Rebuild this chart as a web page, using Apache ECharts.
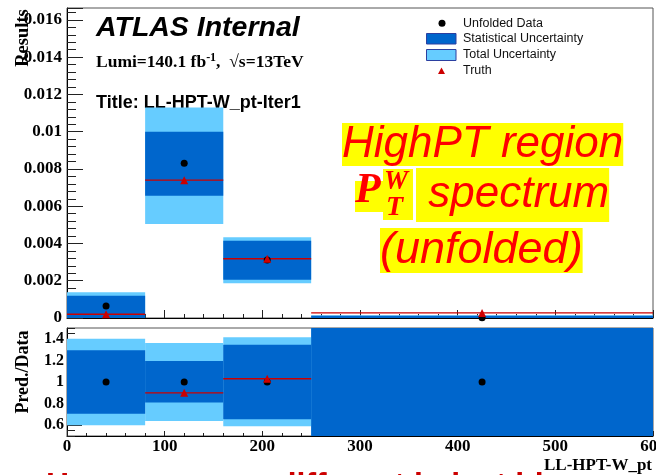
<!DOCTYPE html>
<html><head><meta charset="utf-8">
<script src="https://cdn.jsdelivr.net/npm/echarts@6/dist/echarts.min.js"></script>
<style>html,body{margin:0;padding:0;background:#fff}#c{width:656px;height:475px}</style>
</head><body><div id="c"></div>
<script>
// ---- data ----
const binEdges = [0, 80, 160, 250, 600];
const binCenters = [40, 120, 205, 425];
const dataVals = [0.00064, 0.0083, 0.00311, 0.00002];
const truthVals = [0.0002, 0.0074, 0.00318, 0.00027];
const statLo = [-0.0006, 0.00656, 0.00205, -0.0001];
const statHi = [0.0012, 0.0100, 0.00414, 0.00012];
const totLo = [-0.0006, 0.00504, 0.00186, -0.0001];
const totHi = [0.00138, 0.0113, 0.00433, 0.00015];
const ratioData = [1, 1, 1, 1];
const ratioTruth = [0.31, 0.90, 1.03, 13.5];
const ratioStatLo = [0.707, 0.81, 0.654, -20];
const ratioStatHi = [1.295, 1.195, 1.345, 20];
const ratioTotLo = [0.60, 0.64, 0.59, -20];
const ratioTotHi = [1.40, 1.36, 1.415, 20];
const ratioTickLabels = [0.6, 0.8, 1, 1.2, 1.4];
const legendLabels = ['Unfolded Data', 'Statistical Uncertainty', 'Total Uncertainty', 'Truth'];

const STAT = '#0066cc', TOT = '#66ccff', TRUTH = '#cc0000';
const serif = 'Liberation Serif', sans = 'Liberation Sans';

function bandData(lo, hi) { return lo.map((v, i) => [binEdges[i], binEdges[i + 1], v, hi[i]]); }
function lineData(vals) { return vals.map((v, i) => [binEdges[i], binEdges[i + 1], v]); }
function csRect(p) { return { x: p.coordSys.x, y: p.coordSys.y, width: p.coordSys.width, height: p.coordSys.height }; }
function bandItem(params, api) {
  const a = api.coord([api.value(0), api.value(3)]);
  const b = api.coord([api.value(1), api.value(2)]);
  const shape = echarts.graphic.clipRectByRect({ x: a[0], y: a[1], width: b[0] - a[0], height: b[1] - a[1] }, csRect(params));
  return shape && { type: 'rect', shape: shape, style: { fill: api.visual('color') } };
}
function lineItem(params, api) {
  const a = api.coord([api.value(0), api.value(2)]);
  const b = api.coord([api.value(1), api.value(2)]);
  const r = csRect(params);
  if (a[1] < r.y || a[1] > r.y + r.height) return null;
  return { type: 'line', shape: { x1: a[0], y1: a[1], x2: b[0], y2: b[1] }, style: { stroke: api.visual('color'), lineWidth: 1.3 } };
}
function band(name, lo, hi, color, idx) {
  return { name, type: 'custom', xAxisIndex: idx, yAxisIndex: idx, itemStyle: { color }, renderItem: bandItem,
    encode: { x: [0, 1], y: [2, 3] }, data: bandData(lo, hi), silent: true, z: 2 };
}
function tline(vals, idx) {
  return { type: 'custom', xAxisIndex: idx, yAxisIndex: idx, itemStyle: { color: TRUTH }, renderItem: lineItem,
    encode: { x: [0, 1], y: 2 }, data: lineData(vals), silent: true, z: 3 };
}
function pts(vals, idx, sym, size, color, z) {
  return { type: 'scatter', xAxisIndex: idx, yAxisIndex: idx, symbol: sym, symbolSize: size, clip: true,
    itemStyle: { color, opacity: 1 }, data: binCenters.map((x, i) => [x, vals[i]]), z, silent: true };
}

const axisLineStyle = { lineStyle: { color: '#000', width: 1 } };
const lblFont = { fontFamily: serif, fontWeight: 'bold', color: '#000' };

const option = {
  animation: false,
  grid: [
    { left: 67, top: 8, width: 586, height: 310, show: true, borderColor: '#555', borderWidth: 1, backgroundColor: 'transparent', outerBoundsMode: 'none' },
    { left: 67, top: 328, width: 586, height: 108, show: true, borderColor: '#555', borderWidth: 1, backgroundColor: 'transparent', outerBoundsMode: 'none' }
  ],
  xAxis: [
    { gridIndex: 0, type: 'value', min: 0, max: 600, interval: 100, axisLine: axisLineStyle,
      axisLabel: { show: false }, splitLine: { show: false },
      axisTick: { inside: true, length: 8, lineStyle: { color: '#222' } },
      minorTick: { show: true, splitNumber: 5, length: 4, lineStyle: { color: '#222' } } },
    { gridIndex: 1, type: 'value', min: 0, max: 600, interval: 100, axisLine: axisLineStyle,
      axisLabel: Object.assign({ fontSize: 17, margin: 2 }, lblFont), splitLine: { show: false },
      axisTick: { inside: true, length: 5, lineStyle: { color: '#222' } },
      minorTick: { show: true, splitNumber: 5, length: 3, lineStyle: { color: '#222' } } }
  ],
  yAxis: [
    { gridIndex: 0, type: 'value', min: 0, max: 0.01664, interval: 0.002, axisLine: { show: true, lineStyle: { color: '#000' } },
      axisLabel: Object.assign({ fontSize: 17, margin: 5, showMaxLabel: false,
        formatter: v => v === 0 ? '0' : String(+v.toFixed(4)) }, lblFont),
      splitLine: { show: false },
      axisTick: { inside: true, length: 16, lineStyle: { color: '#222' } },
      minorTick: { show: true, splitNumber: 5, length: 9, lineStyle: { color: '#222' } } },
    { gridIndex: 1, type: 'value', min: 0.5, max: 1.5, interval: 0.1, axisLine: { show: true, lineStyle: { color: '#000' } },
      axisLabel: Object.assign({ fontSize: 16, margin: 3, customValues: ratioTickLabels,
        formatter: v => (Math.abs(v - 1) < 1e-6 ? '1' : v.toFixed(1)) }, lblFont),
      splitLine: { show: false },
      axisTick: { inside: true, length: 15, customValues: ratioTickLabels, lineStyle: { color: '#222' } },
      minorTick: { show: false } },
    { gridIndex: 1, type: 'value', min: 0.5, max: 1.5, interval: 0.05, position: 'left',
      axisLine: { show: false }, axisLabel: { show: false }, splitLine: { show: false },
      axisTick: { inside: true, length: 8, lineStyle: { color: '#222' } }, minorTick: { show: false } }
  ],
  series: [
    band('Total Uncertainty', totLo, totHi, TOT, 0),
    band('Statistical Uncertainty', statLo, statHi, STAT, 0),
    tline(truthVals, 0),
    pts(dataVals, 0, 'circle', 7, '#000', 4),
    pts(truthVals, 0, 'triangle', 8, TRUTH, 5),
    band('Total Uncertainty', ratioTotLo, ratioTotHi, TOT, 1),
    band('Statistical Uncertainty', ratioStatLo, ratioStatHi, STAT, 1),
    tline(ratioTruth, 1),
    pts(ratioData, 1, 'circle', 7, '#000', 4),
    pts(ratioTruth, 1, 'triangle', 8, TRUTH, 5)
  ],
  graphic: [
    { type: 'text', x: 96, y: 28, style: { text: 'ATLAS Internal', fontFamily: sans, fontStyle: 'italic', fontWeight: 'bold', fontSize: 28.5, fill: '#000', verticalAlign: 'middle' } },
    { type: 'text', x: 96, y: 62, style: { text: '{a|Lumi=140.1 fb}{s|-1}{a|,  √s=13TeV}', verticalAlign: 'middle',
        rich: { a: { fontFamily: serif, fontWeight: 'bold', fontSize: 17.5, fill: '#000' },
                s: { fontFamily: serif, fontWeight: 'bold', fontSize: 12, fill: '#000', verticalAlign: 'top', padding: [0, 0, 8, 0] } } } },
    { type: 'text', x: 96, y: 103, style: { text: 'Title: LL-HPT-W_pt-Iter1', fontFamily: sans, fontWeight: 'bold', fontSize: 18, fill: '#000', verticalAlign: 'middle' } },
    // legend
    { type: 'circle', shape: { cx: 442, cy: 23.3, r: 3.5 }, style: { fill: '#000' } },
    { type: 'rect', shape: { x: 426.5, y: 33.5, width: 29.5, height: 10.5 }, style: { fill: STAT, stroke: '#2b3fa0', lineWidth: 1 } },
    { type: 'rect', shape: { x: 426.5, y: 49.5, width: 29.5, height: 11 }, style: { fill: TOT, stroke: '#2b3fa0', lineWidth: 1 } },
    { type: 'polygon', shape: { points: [[441.5, 67.5], [445, 74], [438, 74]] }, style: { fill: TRUTH } },
    { type: 'text', x: 463, y: 23.3, style: { text: legendLabels[0], fontFamily: sans, fontSize: 12.5, fill: '#111', verticalAlign: 'middle' } },
    { type: 'text', x: 463, y: 38.5, style: { text: legendLabels[1], fontFamily: sans, fontSize: 12.5, fill: '#111', verticalAlign: 'middle' } },
    { type: 'text', x: 463, y: 54.5, style: { text: legendLabels[2], fontFamily: sans, fontSize: 12.5, fill: '#111', verticalAlign: 'middle' } },
    { type: 'text', x: 463, y: 70.7, style: { text: legendLabels[3], fontFamily: sans, fontSize: 12.5, fill: '#111', verticalAlign: 'middle' } },
    // axis titles
    { type: 'text', x: 23, y: 38, rotation: Math.PI / 2, style: { text: 'Results', fontFamily: serif, fontWeight: 'bold', fontSize: 18.5, fill: '#000', align: 'center', verticalAlign: 'middle' } },
    { type: 'text', x: 23, y: 372, rotation: Math.PI / 2, style: { text: 'Pred./Data', fontFamily: serif, fontWeight: 'bold', fontSize: 18, fill: '#000', align: 'center', verticalAlign: 'middle' } },
    { type: 'text', x: 652, y: 466, style: { text: 'LL-HPT-W_pt', fontFamily: serif, fontWeight: 'bold', fontSize: 17, fill: '#000', align: 'right', verticalAlign: 'middle' } },
    // annotation
    { type: 'text', x: 342, y: 123, z: 100, style: { text: 'HighPT region', fontFamily: sans, fontStyle: 'italic', fontSize: 44, lineHeight: 43, fill: '#ff0000', backgroundColor: '#ffff00', verticalAlign: 'top' } },
    { type: 'rect', z: 99, shape: { x: 355, y: 181, width: 29, height: 31 }, style: { fill: '#ffff00' } },
    { type: 'rect', z: 99, shape: { x: 383, y: 169, width: 30, height: 51 }, style: { fill: '#ffff00' } },
    { type: 'text', x: 355, y: 212, z: 100, style: { text: 'P', fontFamily: serif, fontStyle: 'italic', fontWeight: 'bold', fontSize: 42, fill: '#ff0000', verticalAlign: 'bottom' } },
    { type: 'text', x: 384, y: 182, z: 100, style: { text: 'W', fontFamily: serif, fontStyle: 'italic', fontWeight: 'bold', fontSize: 27, fill: '#ff0000', verticalAlign: 'middle' } },
    { type: 'text', x: 386, y: 208, z: 100, style: { text: 'T', fontFamily: serif, fontStyle: 'italic', fontWeight: 'bold', fontSize: 28, fill: '#ff0000', verticalAlign: 'middle' } },
    { type: 'text', x: 416, y: 168, z: 100, style: { text: ' spectrum', fontFamily: sans, fontStyle: 'italic', fontSize: 44, lineHeight: 54, fill: '#ff0000', backgroundColor: '#ffff00', verticalAlign: 'top' } },
    { type: 'text', x: 380, y: 228, z: 100, style: { text: '(unfolded)', fontFamily: sans, fontStyle: 'italic', fontSize: 45, lineHeight: 45, fill: '#ff0000', backgroundColor: '#ffff00', verticalAlign: 'top' } },
    { type: 'text', x: 46, y: 470, z: 100, style: { text: 'Huge errors', fontFamily: sans, fontWeight: 'bold', fontSize: 32, fill: '#cc0000', verticalAlign: 'top' } },
    { type: 'text', x: 277, y: 470, z: 100, style: { text: 'different in last bin', fontFamily: sans, fontWeight: 'bold', fontSize: 32, fill: '#cc0000', verticalAlign: 'top' } }
  ]
};
const chart = echarts.init(document.getElementById('c'), null, { renderer: 'canvas' });
chart.setOption(option);
</script></body></html>
